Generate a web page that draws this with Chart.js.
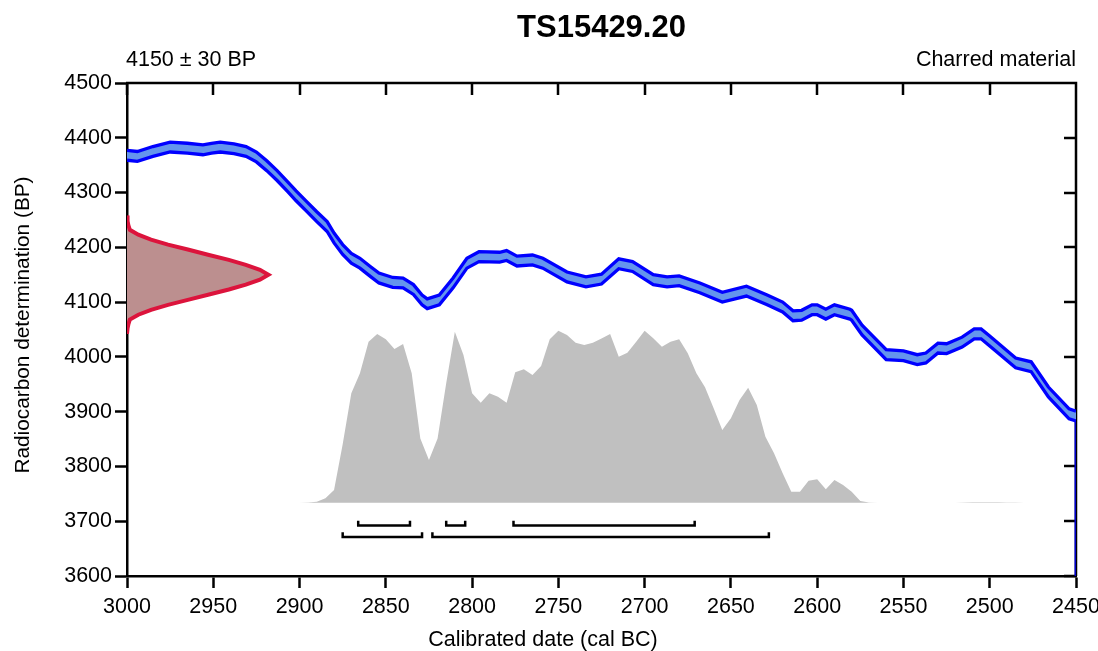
<!DOCTYPE html>
<html><head><meta charset="utf-8">
<script src="https://cdn.jsdelivr.net/npm/chart.js@4"></script>
<style>html,body{margin:0;padding:0;background:#fff}#wrap{width:1098px;height:651px}</style>
</head><body><div id="wrap"><canvas id="c" width="1098" height="651"></canvas></div>
<script>
// ---- data ----
const calYears = [3000,2994,2985,2975,2965,2956,2951,2946,2938,2931, 2925,2919,2913,2907,2902,2896,2890,2884,2880,2875, 2870,2865,2859,2854,2846,2840,2834,2829,2826,2819, 2811,2803,2796,2784,2780,2774,2765,2759,2745,2734, 2725,2715,2707,2695,2687,2680,2668,2655,2641,2629, 2620,2614,2609,2603,2600,2595,2590,2581,2580,2574, 2560,2550,2542,2537,2530,2525,2516,2509,2505,2500, 2485,2476,2466,2454,2450];
const calUpper = [4377,4375,4384,4392,4390,4387,4390,4392,4389,4384, 4374,4358,4340,4320,4303,4284,4265,4247,4226,4205, 4189,4180,4165,4153,4145,4144,4132,4113,4106,4113, 4144,4180,4192,4191,4194,4184,4186,4180,4155,4146, 4151,4179,4174,4150,4146,4148,4135,4118,4129,4113, 4100,4084,4085,4095,4095,4087,4095,4087,4085,4058, 4013,4011,4004,4007,4025,4024,4036,4051,4051,4038, 3998,3991,3945,3905,3901];
const calLower = [4359,4357,4366,4374,4372,4369,4372,4374,4371,4366, 4356,4340,4322,4302,4285,4266,4247,4229,4208,4187, 4171,4162,4147,4135,4127,4126,4114,4095,4088,4095, 4126,4162,4174,4173,4176,4166,4168,4162,4137,4128, 4133,4161,4156,4132,4128,4130,4117,4100,4111,4095, 4082,4066,4067,4077,4077,4069,4077,4069,4067,4040, 3995,3993,3986,3989,4007,4006,4018,4033,4033,4020, 3980,3973,3927,3887,3883];

const probYears = [2900, 2895, 2890, 2885, 2880, 2875, 2870, 2865, 2860, 2855, 2850, 2845, 2840, 2835, 2830, 2825, 2820, 2815, 2810, 2805, 2800, 2795, 2790, 2785, 2780, 2775, 2770, 2765, 2760, 2755, 2750, 2745, 2740, 2735, 2730, 2725, 2720, 2715, 2710, 2705, 2700, 2695, 2690, 2685, 2680, 2675, 2670, 2665, 2660, 2655, 2650, 2645, 2640, 2635, 2630, 2625, 2620, 2615, 2610, 2605, 2600, 2595, 2590, 2585, 2580, 2575, 2570, 2565, 2520, 2515, 2510, 2505, 2500, 2495, 2490, 2485, 2480];
const probValues = [0, 0.002, 0.006, 0.026, 0.074, 0.34, 0.636, 0.752, 0.936, 0.981, 0.95, 0.894, 0.923, 0.752, 0.374, 0.248, 0.374, 0.694, 0.994, 0.859, 0.636, 0.581, 0.636, 0.616, 0.581, 0.758, 0.776, 0.742, 0.795, 0.95, 1.0, 0.975, 0.93, 0.917, 0.93, 0.955, 0.981, 0.849, 0.872, 0.935, 1.0, 0.956, 0.907, 0.936, 0.95, 0.869, 0.752, 0.671, 0.549, 0.423, 0.491, 0.597, 0.669, 0.568, 0.384, 0.287, 0.171, 0.064, 0.064, 0.128, 0.136, 0.078, 0.132, 0.103, 0.064, 0.01, 0.002, 0, 0, 0.002, 0.003, 0.003, 0.003, 0.003, 0.002, 0.002, 0];

const r14BP   = [4258, 4248, 4240, 4232, 4223, 4214, 4205, 4196, 4186, 4177, 4168, 4159, 4150, 4141, 4132, 4123, 4114, 4104, 4095, 4086, 4077, 4068, 4060, 4052, 4042];
const r14Prob = [0, 0.004, 0.01, 0.02, 0.08, 0.17, 0.29, 0.43, 0.58, 0.72, 0.84, 0.94, 1, 0.94, 0.84, 0.72, 0.58, 0.43, 0.29, 0.17, 0.08, 0.02, 0.01, 0.004, 0];

const range68From = [2866, 2815, 2776];
const range68To   = [2836, 2804, 2671];
const range95From = [2875, 2823];
const range95To   = [2829, 2628];

const xTicks = [3000, 2950, 2900, 2850, 2800, 2750, 2700, 2650, 2600, 2550, 2500, 2450];
const yTicks = [3600, 3700, 3800, 3900, 4000, 4100, 4200, 4300, 4400, 4500];

const titleText = 'TS15429.20';
const leftNote = '4150 ± 30 BP';
const rightNote = 'Charred material';
const xTitle = 'Calibrated date (cal BC)';
const yTitle = 'Radiocarbon determination (BP)';

// ---- layout constants ----
const ROW68_Y = 3692, ROW95_Y = 3671, BRACKET_TICK = 9;
const FONT = '"Liberation Sans", Arial, Helvetica, sans-serif';
const FS = 21.5;

function brackets(from, to, yLine) {
  const pts = [];
  from.forEach((f, i) => {
    pts.push({x: f, y: yLine + BRACKET_TICK}, {x: f, y: yLine}, {x: to[i], y: yLine}, {x: to[i], y: yLine + BRACKET_TICK}, {x: to[i], y: null});
  });
  return pts;
}

const deco = {
  id: 'deco',
  beforeDatasetsDraw(chart) {
    const {ctx, chartArea: a, scales} = chart;
    ctx.save();
    ctx.strokeStyle = '#000'; ctx.lineWidth = 2.5;
    ctx.beginPath();
    ctx.moveTo(a.left - 1, a.top); ctx.lineTo(a.right + 1.25, a.top);
    ctx.moveTo(a.right, a.top); ctx.lineTo(a.right, a.bottom);
    xTicks.forEach(v => { const px = Math.round(scales.x.getPixelForValue(v)); ctx.moveTo(px, a.top); ctx.lineTo(px, a.top + 12); });
    yTicks.forEach(v => { const py = Math.round(scales.y.getPixelForValue(v)); ctx.moveTo(a.right, py); ctx.lineTo(a.right - 12, py); });
    ctx.stroke();
    ctx.restore();
  },
  afterDraw(chart) {
    const {ctx, chartArea: a} = chart;
    ctx.save();
    ctx.fillStyle = '#000';
    ctx.textBaseline = 'alphabetic';
    ctx.font = 'bold 31px ' + FONT;
    ctx.textAlign = 'center';
    ctx.fillText(titleText, (a.left + a.right) / 2, 37);
    ctx.font = FS + 'px ' + FONT;
    ctx.textAlign = 'left'; ctx.fillText(leftNote, a.left - 1, 66);
    ctx.textAlign = 'right'; ctx.fillText(rightNote, a.right, 66);
    ctx.textAlign = 'center'; ctx.fillText(xTitle, 543, 646);
    ctx.font = '20.8px ' + FONT;
    ctx.translate(29, 325); ctx.rotate(-Math.PI / 2);
    ctx.fillText(yTitle, 0, 0);
    ctx.restore();
  }
};

const line = {showLine: true, pointRadius: 0, pointHoverRadius: 0, tension: 0};

new Chart(document.getElementById('c'), {
  type: 'scatter',
  data: {
    datasets: [
      Object.assign({}, line, {
        label: 'r14', order: 0, xAxisID: 'xr', yAxisID: 'y',
        data: r14BP.map((y, i) => ({x: r14Prob[i], y})),
        borderColor: '#dc143c', borderWidth: 4, backgroundColor: '#bc8f8f', fill: 'shape'
      }),
      Object.assign({}, line, {
        label: 'calLower', order: 1,
        data: calYears.map((x, i) => ({x, y: calLower[i]})),
        borderColor: '#0000ff', borderWidth: 3.3, fill: false
      }),
      Object.assign({}, line, {
        label: 'calUpper', order: 2,
        data: calYears.map((x, i) => ({x, y: calUpper[i]})),
        borderColor: '#0000ff', borderWidth: 3.3, backgroundColor: '#6495ed', fill: '-1'
      }),
      Object.assign({}, line, {
        label: 'edge', order: 1,
        data: [{x: calYears[calYears.length - 1], y: calLower[calLower.length - 1]}, {x: calYears[calYears.length - 1], y: yTicks[0]}],
        borderColor: '#0000cd', borderWidth: 3, fill: false
      }),
      Object.assign({}, line, {
        label: 'r68', order: 3,
        data: brackets(range68From, range68To, ROW68_Y),
        borderColor: '#000', borderWidth: 2.5, fill: false, spanGaps: false, borderJoinStyle: 'miter'
      }),
      Object.assign({}, line, {
        label: 'r95', order: 3,
        data: brackets(range95From, range95To, ROW95_Y),
        borderColor: '#000', borderWidth: 2.5, fill: false, spanGaps: false, borderJoinStyle: 'miter'
      }),
      Object.assign({}, line, {
        label: 'prob', order: 5, yAxisID: 'yp',
        data: probYears.map((x, i) => ({x, y: probValues[i]})),
        borderWidth: 0, borderColor: 'rgba(0,0,0,0)', backgroundColor: '#c0c0c0', fill: 'origin'
      })
    ]
  },
  options: {
    responsive: false, animation: false, devicePixelRatio: 1,
    layout: {padding: {top: 83, right: 22, left: 0, bottom: 0}},
    plugins: {legend: {display: false}, tooltip: {enabled: false}, title: {display: false}},
    scales: {
      x: {
        type: 'linear', position: 'bottom', reverse: true, min: 2450, max: 3000,
        afterBuildTicks: s => { s.ticks = xTicks.map(v => ({value: v})); },
        afterFit: s => { s.height = 75; s.paddingLeft = 0; s.paddingRight = 0; },
        ticks: {color: '#000', font: {family: FONT, size: FS}, padding: 6, maxRotation: 0, autoSkip: false, callback: v => String(v)},
        grid: {drawOnChartArea: false, drawTicks: true, tickLength: 12, tickWidth: 2.5, tickColor: '#000'},
        border: {display: true, color: '#000', width: 2.5}
      },
      y: {
        type: 'linear', position: 'left', min: 3600, max: 4500,
        afterBuildTicks: s => { s.ticks = yTicks.map(v => ({value: v})); },
        afterFit: s => { s.width = 127; s.paddingTop = 0; s.paddingBottom = 0; },
        ticks: {color: '#000', font: {family: FONT, size: FS}, padding: 3, autoSkip: false, callback: v => String(v)},
        grid: {drawOnChartArea: false, drawTicks: true, tickLength: 12, tickWidth: 2.5, tickColor: '#000'},
        border: {display: true, color: '#000', width: 2.5}
      },
      xr: {type: 'linear', display: false, min: 0, max: 6.71},
      yp: {type: 'linear', display: false, min: -0.426, max: 2.44}
    }
  },
  plugins: [deco]
});
</script>
</body></html>
